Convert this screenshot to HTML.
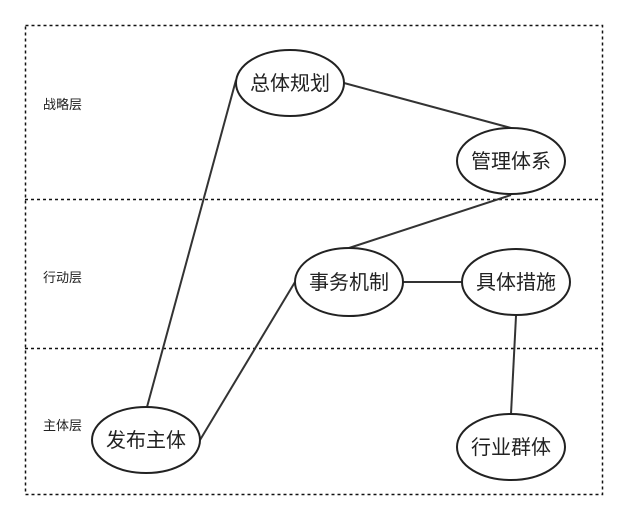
<!DOCTYPE html>
<html><head><meta charset="utf-8"><style>
html,body{margin:0;padding:0;background:#fff;}
svg{display:block;}
text{font-family:"Liberation Sans","Noto Sans CJK SC",sans-serif;fill:#222;}
</style></head><body>
<svg width="628" height="520" viewBox="0 0 628 520">
<g stroke="#111" stroke-width="1.5" stroke-dasharray="3,3" fill="none">
<rect x="25.5" y="25.5" width="577" height="469"/>
<line x1="25" y1="199.5" x2="603" y2="199.5"/>
<line x1="25" y1="348.5" x2="603" y2="348.5"/>
</g>
<text x="43" y="109" font-size="13">战略层</text>
<text x="43" y="282" font-size="13">行动层</text>
<text x="43" y="430" font-size="13">主体层</text>
<g stroke="#333" stroke-width="2" fill="none">
<line x1="344" y1="83" x2="511" y2="128"/>
<line x1="511" y1="195" x2="349" y2="248"/>
<line x1="403" y1="282" x2="462" y2="282"/>
<line x1="516" y1="316" x2="511" y2="414"/>
<line x1="147" y1="407" x2="236" y2="80"/>
<line x1="200" y1="440" x2="295" y2="282"/>
</g>
<g stroke="#222" stroke-width="2" fill="#fff">
<ellipse cx="290" cy="83" rx="54" ry="33"/>
<ellipse cx="511" cy="161" rx="54" ry="33"/>
<ellipse cx="349" cy="282" rx="54" ry="34"/>
<ellipse cx="516" cy="282" rx="54" ry="33"/>
<ellipse cx="146" cy="440" rx="54" ry="33"/>
<ellipse cx="511" cy="447" rx="54" ry="33"/>
</g>
<g font-size="20" text-anchor="middle">
<text x="290" y="90">总体规划</text>
<text x="511" y="168">管理体系</text>
<text x="349" y="289">事务机制</text>
<text x="516" y="289">具体措施</text>
<text x="146" y="447">发布主体</text>
<text x="511" y="454">行业群体</text>
</g>
</svg>
</body></html>
